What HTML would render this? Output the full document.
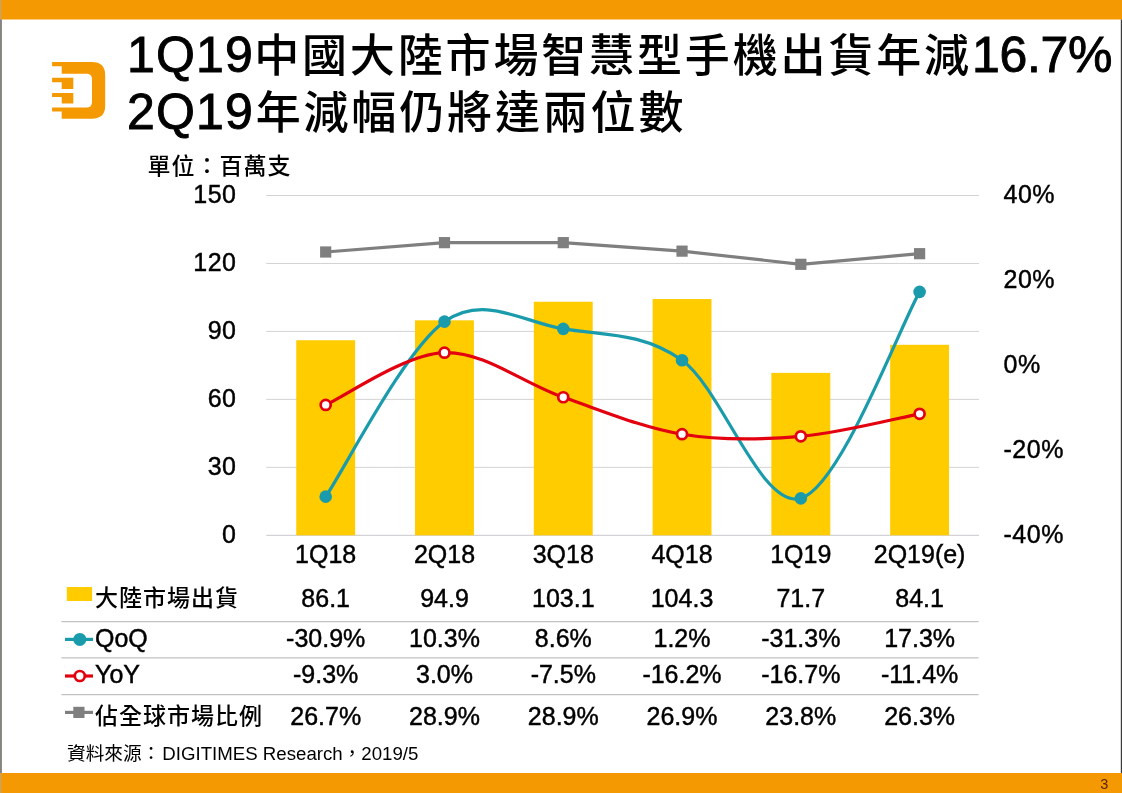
<!DOCTYPE html>
<html lang="zh-Hant"><head><meta charset="utf-8"><title>1Q19中國大陸市場智慧型手機出貨</title>
<style>html,body{margin:0;padding:0;background:#fff;}body{width:1122px;height:793px;overflow:hidden;position:relative;}svg{position:absolute;left:0;top:0;display:block;}text{font-family:"Liberation Sans","Noto Sans CJK TC",sans-serif;fill:#000;}.n{stroke:#000;stroke-width:.45px;}</style></head><body>
<svg width="1122" height="793" viewBox="0 0 1122 793">
<rect x="0" y="0" width="1122" height="793" fill="#fff"/>
<rect x="0" y="0" width="1122" height="19.5" fill="#F59903"/>
<rect x="0" y="773" width="1122" height="20" fill="#F59903"/>
<rect x="0" y="0" width="1.6" height="793" fill="#d3a24e"/>
<rect x="0" y="19.5" width="1.9" height="753.5" fill="#848484"/>
<rect x="1120.8" y="19.5" width="1.2" height="753.5" fill="#3c3c3c"/>
<g fill="#F59903">
<path d="M52.1,62.1 H92 Q105.2,62.1 105.2,75.5 V105.5 Q105.2,118.7 92,118.7 H61.7 V111.6 H52.1 V107.5 H86.5 Q92,107.5 92,102 V79.2 Q92,73.7 86.5,73.7 H61.7 V66.2 H52.1 Z"/>
<path d="M52.1,77.8 H73.3 V88.9 H61.7 V82.3 H52.1 Z"/>
<path d="M52.1,92.9 H73.3 V103.5 H61.7 V97 H52.1 Z"/>
</g>
<text x="127" y="72"><tspan font-size="50" letter-spacing="1.2" stroke="#000" stroke-width="0.9">1Q19</tspan><tspan font-size="45" letter-spacing="2.85" font-weight="500" dy="-0.3">中國大陸市場智慧型手機出貨年減</tspan><tspan font-size="50" stroke="#000" stroke-width="0.9" dy="0.3" letter-spacing="-0.3">16.7%</tspan></text>
<text x="127" y="129"><tspan font-size="50" letter-spacing="1.2" stroke="#000" stroke-width="0.9">2Q19</tspan><tspan font-size="45" letter-spacing="2.85" font-weight="500" dy="-0.3" dx="1.5">年減幅仍將達兩位數</tspan></text>
<text x="147.5" y="173.5" font-size="23" letter-spacing="1" font-weight="500">單位：百萬支</text>
<line x1="266.3" x2="979.0" y1="535.30" y2="535.30" stroke="#c9c9cd" stroke-width="1"/>
<line x1="266.3" x2="979.0" y1="467.34" y2="467.34" stroke="#d3d3d3" stroke-width="1"/>
<line x1="266.3" x2="979.0" y1="399.38" y2="399.38" stroke="#d3d3d3" stroke-width="1"/>
<line x1="266.3" x2="979.0" y1="331.42" y2="331.42" stroke="#d3d3d3" stroke-width="1"/>
<line x1="266.3" x2="979.0" y1="263.46" y2="263.46" stroke="#d3d3d3" stroke-width="1"/>
<line x1="266.3" x2="979.0" y1="195.50" y2="195.50" stroke="#d3d3d3" stroke-width="1"/>
<rect x="296.25" y="340.25" width="58.89" height="195.05" fill="#FFCC00"/>
<rect x="415.03" y="320.32" width="58.89" height="214.98" fill="#FFCC00"/>
<rect x="533.81" y="301.74" width="58.89" height="233.56" fill="#FFCC00"/>
<rect x="652.60" y="299.03" width="58.89" height="236.27" fill="#FFCC00"/>
<rect x="771.38" y="372.88" width="58.89" height="162.42" fill="#FFCC00"/>
<rect x="890.16" y="344.79" width="58.89" height="190.51" fill="#FFCC00"/>
<text class="n" x="236.5" y="542.8" font-size="25" letter-spacing="0.5" text-anchor="end">0</text>
<text class="n" x="236.5" y="474.8" font-size="25" letter-spacing="0.5" text-anchor="end">30</text>
<text class="n" x="236.5" y="406.9" font-size="25" letter-spacing="0.5" text-anchor="end">60</text>
<text class="n" x="236.5" y="338.9" font-size="25" letter-spacing="0.5" text-anchor="end">90</text>
<text class="n" x="236.5" y="271.0" font-size="25" letter-spacing="0.5" text-anchor="end">120</text>
<text class="n" x="236.5" y="203.0" font-size="25" letter-spacing="0.5" text-anchor="end">150</text>
<text class="n" x="1003.5" y="542.8" font-size="25" letter-spacing="0.5">-40%</text>
<text class="n" x="1003.5" y="457.8" font-size="25" letter-spacing="0.5">-20%</text>
<text class="n" x="1003.5" y="372.9" font-size="25" letter-spacing="0.5">0%</text>
<text class="n" x="1003.5" y="287.9" font-size="25" letter-spacing="0.5">20%</text>
<text class="n" x="1003.5" y="203.0" font-size="25" letter-spacing="0.5">40%</text>
<polyline fill="none" stroke="#7f7f7f" stroke-width="3.2" stroke-linejoin="round" points="325.69,251.99 444.48,242.65 563.26,242.65 682.04,251.14 800.83,264.31 919.61,253.69"/>
<rect x="320.09" y="246.39" width="11.2" height="11.2" fill="#7f7f7f"/>
<rect x="438.88" y="237.05" width="11.2" height="11.2" fill="#7f7f7f"/>
<rect x="557.66" y="237.05" width="11.2" height="11.2" fill="#7f7f7f"/>
<rect x="676.44" y="245.54" width="11.2" height="11.2" fill="#7f7f7f"/>
<rect x="795.23" y="258.71" width="11.2" height="11.2" fill="#7f7f7f"/>
<rect x="914.01" y="248.09" width="11.2" height="11.2" fill="#7f7f7f"/>
<path fill="none" stroke="#1A9BAC" stroke-width="3.2" d="M325.69,496.65 C345.49,467.48 404.88,349.61 444.48,321.65 C484.07,293.69 523.66,322.43 563.26,328.87 C602.85,335.31 642.45,332.06 682.04,360.30 C721.64,388.55 761.23,509.74 800.83,498.35 C840.42,486.95 899.81,326.32 919.61,291.92"/>
<circle cx="325.69" cy="496.65" r="6.3" fill="#1A9BAC"/>
<circle cx="444.48" cy="321.65" r="6.3" fill="#1A9BAC"/>
<circle cx="563.26" cy="328.87" r="6.3" fill="#1A9BAC"/>
<circle cx="682.04" cy="360.30" r="6.3" fill="#1A9BAC"/>
<circle cx="800.83" cy="498.35" r="6.3" fill="#1A9BAC"/>
<circle cx="919.61" cy="291.92" r="6.3" fill="#1A9BAC"/>
<path fill="none" stroke="#E3000F" stroke-width="3.2" d="M325.69,404.90 C345.49,396.19 404.88,353.93 444.48,352.66 C484.07,351.38 523.66,383.66 563.26,397.26 C602.85,410.85 642.45,427.70 682.04,434.21 C721.64,440.72 761.23,439.73 800.83,436.33 C840.42,432.94 899.81,417.57 919.61,413.82"/>
<circle cx="325.69" cy="404.90" r="5" fill="#fff" stroke="#E3000F" stroke-width="2.7"/>
<circle cx="444.48" cy="352.66" r="5" fill="#fff" stroke="#E3000F" stroke-width="2.7"/>
<circle cx="563.26" cy="397.26" r="5" fill="#fff" stroke="#E3000F" stroke-width="2.7"/>
<circle cx="682.04" cy="434.21" r="5" fill="#fff" stroke="#E3000F" stroke-width="2.7"/>
<circle cx="800.83" cy="436.33" r="5" fill="#fff" stroke="#E3000F" stroke-width="2.7"/>
<circle cx="919.61" cy="413.82" r="5" fill="#fff" stroke="#E3000F" stroke-width="2.7"/>
<text class="n" x="325.7" y="563" font-size="25" text-anchor="middle">1Q18</text>
<text class="n" x="444.5" y="563" font-size="25" text-anchor="middle">2Q18</text>
<text class="n" x="563.3" y="563" font-size="25" text-anchor="middle">3Q18</text>
<text class="n" x="682.0" y="563" font-size="25" text-anchor="middle">4Q18</text>
<text class="n" x="800.8" y="563" font-size="25" text-anchor="middle">1Q19</text>
<text class="n" x="919.6" y="563" font-size="25" text-anchor="middle">2Q19(e)</text>
<line x1="61.4" x2="978.6" y1="621.5" y2="621.5" stroke="#c2c2c2" stroke-width="1.25"/>
<line x1="61.4" x2="978.6" y1="657.8" y2="657.8" stroke="#c2c2c2" stroke-width="1.25"/>
<line x1="61.4" x2="978.6" y1="694.5" y2="694.5" stroke="#c2c2c2" stroke-width="1.25"/>
<text x="95" y="605.7" font-size="23" letter-spacing="1" font-weight="500">大陸市場出貨</text>
<text class="n" x="325.7" y="606.5" font-size="25" text-anchor="middle">86.1</text>
<text class="n" x="444.5" y="606.5" font-size="25" text-anchor="middle">94.9</text>
<text class="n" x="563.3" y="606.5" font-size="25" text-anchor="middle">103.1</text>
<text class="n" x="682.0" y="606.5" font-size="25" text-anchor="middle">104.3</text>
<text class="n" x="800.8" y="606.5" font-size="25" text-anchor="middle">71.7</text>
<text class="n" x="919.6" y="606.5" font-size="25" text-anchor="middle">84.1</text>
<text x="95" y="646.5" font-size="25" class="n">QoQ</text>
<text class="n" x="325.7" y="646.5" font-size="25" text-anchor="middle">-30.9%</text>
<text class="n" x="444.5" y="646.5" font-size="25" text-anchor="middle">10.3%</text>
<text class="n" x="563.3" y="646.5" font-size="25" text-anchor="middle">8.6%</text>
<text class="n" x="682.0" y="646.5" font-size="25" text-anchor="middle">1.2%</text>
<text class="n" x="800.8" y="646.5" font-size="25" text-anchor="middle">-31.3%</text>
<text class="n" x="919.6" y="646.5" font-size="25" text-anchor="middle">17.3%</text>
<text x="95" y="683.0" font-size="25" class="n">YoY</text>
<text class="n" x="325.7" y="683.0" font-size="25" text-anchor="middle">-9.3%</text>
<text class="n" x="444.5" y="683.0" font-size="25" text-anchor="middle">3.0%</text>
<text class="n" x="563.3" y="683.0" font-size="25" text-anchor="middle">-7.5%</text>
<text class="n" x="682.0" y="683.0" font-size="25" text-anchor="middle">-16.2%</text>
<text class="n" x="800.8" y="683.0" font-size="25" text-anchor="middle">-16.7%</text>
<text class="n" x="919.6" y="683.0" font-size="25" text-anchor="middle">-11.4%</text>
<text x="95" y="723.8" font-size="23" letter-spacing="1" font-weight="500">佔全球市場比例</text>
<text class="n" x="325.7" y="724.6" font-size="25" text-anchor="middle">26.7%</text>
<text class="n" x="444.5" y="724.6" font-size="25" text-anchor="middle">28.9%</text>
<text class="n" x="563.3" y="724.6" font-size="25" text-anchor="middle">28.9%</text>
<text class="n" x="682.0" y="724.6" font-size="25" text-anchor="middle">26.9%</text>
<text class="n" x="800.8" y="724.6" font-size="25" text-anchor="middle">23.8%</text>
<text class="n" x="919.6" y="724.6" font-size="25" text-anchor="middle">26.3%</text>
<rect x="66.8" y="587" width="25.3" height="14" fill="#FFCC00"/>
<line x1="65" x2="93" y1="639.4" y2="639.4" stroke="#1A9BAC" stroke-width="3.2"/><circle cx="79.8" cy="639.4" r="6.5" fill="#1A9BAC"/>
<line x1="65" x2="93" y1="676" y2="676" stroke="#E3000F" stroke-width="3.2"/><circle cx="79.8" cy="676" r="5" fill="#fff" stroke="#E3000F" stroke-width="2.7"/>
<line x1="65" x2="93" y1="712.4" y2="712.4" stroke="#7f7f7f" stroke-width="3.2"/><rect x="73.3" y="706.8" width="11.2" height="11.2" fill="#7f7f7f"/>
<text x="67" y="760" font-size="18.67">資料來源：<tspan dx="2">DIGITIMES Research，2019/5</tspan></text>
<text x="1104.3" y="788.8" font-size="14.5" text-anchor="middle" style="fill:#5a2300">3</text>
</svg></body></html>
